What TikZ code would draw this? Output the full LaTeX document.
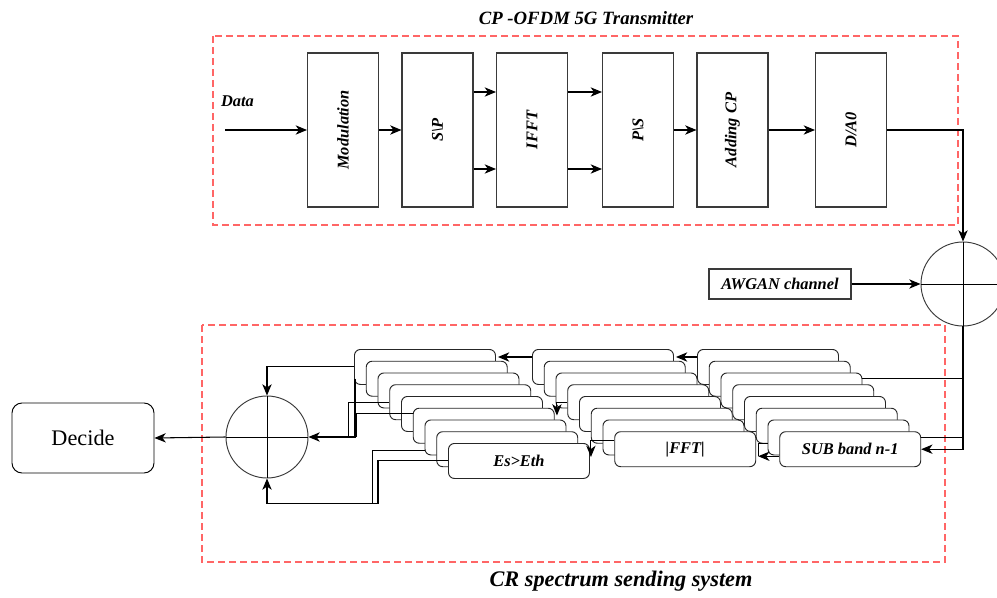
\documentclass[tikz,border=0pt]{standalone}
\usepackage{fontspec}
\setmainfont{Liberation Serif}
\usepackage{graphicx}
\usetikzlibrary{arrows.meta,calc}
\definecolor{zonered}{HTML}{FF6666}
\definecolor{boxgray}{HTML}{3A3A3A}

\begin{document}
\begin{tikzpicture}[x=0.3mm, y=-0.3mm,
    lbl/.style={font=\fontsize{14}{16}\selectfont\bfseries\itshape},
    block/.style={draw=boxgray, line width=0.9pt, minimum width=21.3mm, minimum height=46.2mm, inner sep=0pt, lbl},
    card/.style={draw=black!85, line width=0.8pt, fill=white, rounded corners=1.8mm, minimum width=42.3mm, minimum height=10.5mm, inner sep=0pt, anchor=north west, lbl},
    sumnode/.style={draw=boxgray, line width=0.8pt, circle, inner sep=0pt},
    arr/.style={-{Stealth[length=3.4mm,width=2.8mm,inset=1mm]}, line width=0.9pt},
    zone/.style={draw=zonered, line width=1.4pt, dash pattern=on 2mm off 1.3mm}]

    \useasboundingbox (0,0) rectangle (997,598);

    %===== Transmitter =====%
    \draw[zone] (213,36) rectangle (958,225);
    \node[font=\fontsize{16}{18}\selectfont\bfseries\itshape] (txtitle) at (586,18) {CP -OFDM 5G Transmitter};
    \node[lbl, anchor=west] (datalbl) at (217,101) {Data};
    \coordinate (din) at (225,130);

    \node[block] (mod)  at (343,130)   {\rotatebox{90}{Modulation}};
    \node[block] (sp)   at (437.5,130) {\rotatebox{90}{S\textbackslash P}};
    \node[block] (ifft) at (532,130)   {\rotatebox{90}{IFFT}};
    \node[block] (ps)   at (638,130)   {\rotatebox{90}{P\textbackslash S}};
    \node[block] (acp)  at (732.5,130) {\rotatebox{90}{Adding CP}};
    \node[block] (da)   at (851,130)   {\rotatebox{90}{D/A0}};

    \draw[arr] (din) -- (mod);
    \draw[arr] (mod) -- (sp);
    \draw[arr] ([yshift=11.4mm]sp.east) -- ([yshift=11.4mm]ifft.west);
    \draw[arr] ([yshift=-11.7mm]sp.east) -- ([yshift=-11.7mm]ifft.west);
    \draw[arr] ([yshift=11.4mm]ifft.east) -- ([yshift=11.4mm]ps.west);
    \draw[arr] ([yshift=-11.7mm]ifft.east) -- ([yshift=-11.7mm]ps.west);
    \draw[arr] (ps) -- (acp);
    \draw[arr] (acp) -- (da);

    %===== Channel =====%
    \node[sumnode, minimum size=25.2mm] (sum1) at (963,284) {};
    \draw[line width=0.8pt] (sum1.north) -- (sum1.south) (sum1.west) -- (sum1.east);
    \node[draw=boxgray, line width=0.9pt, minimum width=42.6mm, minimum height=9mm, inner sep=0pt, lbl] (awgn) at (780,284) {AWGAN channel};
    \draw[arr] (da.east) -| (sum1.north);
    \draw[arr] (awgn) -- (sum1.west);

    %===== Receiver =====%
    \draw[zone] (202,325) rectangle (945,562);
    \node[font=\fontsize{19}{22}\selectfont\bfseries\itshape] (rxtitle) at (621,581) {CR spectrum sending system};

    % stacked sub band cards
    \foreach \k in {0,...,7}
      \node[card] (g1c\k) at ({354+11.75*\k},{349+11.75*\k}) {};
    \node[card] (g1c8) at (448,443) {Es>Eth};
    \foreach \k in {0,...,6}
      \node[card] (g2c\k) at ({532+11.75*\k},{349+11.75*\k}) {};
    \node[card] (g2c7) at (614.25,431.25) {|FFT|};
    \foreach \k in {0,...,6}
      \node[card] (g3c\k) at ({697+11.75*\k},{349+11.75*\k}) {};
    \node[card] (g3c7) at (779.25,431.25) {SUB band n-1};

    % links between stacks
    \draw[arr] ($(g2c0.north west)+(0,8)$) -- ($(g1c0.north east)+(2,8)$);
    \draw[arr] ($(g3c0.north west)+(0,8)$) -- ($(g2c0.north east)+(2,8)$);
    \draw[arr] ($(g2c3.north west)+(0,18)$) -| ($(g1c6.north east)+(-9.5,-4)$);
    \draw[arr] ($(g2c7.north west)+(0,9)$) -| ($(g1c8.north east)+(1,14)$);
    \draw ($(g3c6.north west)+(0,24)$) -| ($(g2c7.north east)+(2,25)$);
    \draw[arr] ($(g3c7.north west)+(0,25)$) -- ($(g2c7.north east)+(2,25)$);

    % feed from channel
    \draw[arr] (sum1.south) |- (g3c7.east);
    \draw ($(g3c2.north east)+(0,6)$) -| (sum1.south);
    \draw ($(g3c7.north east)+(0,6)$) -| (sum1.south);

    % combiner and decision
    \node[sumnode, minimum size=24.6mm] (sumB) at (267,437) {};
    \draw[line width=0.8pt] (sumB.north) -- (sumB.south) (sumB.west) -- (sumB.east);
    \node[draw, line width=0.8pt, rounded corners=3mm, minimum width=42.6mm, minimum height=21mm, font=\fontsize{19}{22}\selectfont] (decide) at (83,438) {Decide};

    \draw[arr] (g1c0.west) -| (sumB.north);
    \draw[arr] ($(g1c0.south west)+(1,-6)$) |- (sumB.east);
    \draw (g1c3.west) -| ($(sumB.east)+(40,0)$);
    \draw ($(g1c5.north west)+(0,5)$) -| ($(sumB.east)+(48,0)$);
    \draw[arr] (g1c8.west) -| ($(sumB.south)+(111,25)$) -| (sumB.south);
    \draw ($(g1c6.south west)+(0,-5)$) -| ($(sumB.south)+(105,25)$);
    \draw[arr] (sumB.west) -- (decide.east);
\end{tikzpicture}
\end{document}
